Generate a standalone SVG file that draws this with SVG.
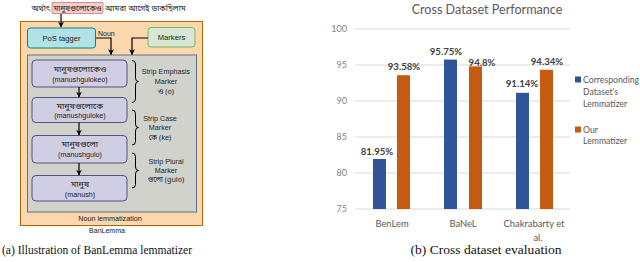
<svg xmlns="http://www.w3.org/2000/svg" width="640" height="262" viewBox="0 0 640 262">
<defs>
<marker id="ah" viewBox="0 0 10 10" refX="9" refY="5" markerWidth="5" markerHeight="5" orient="auto"><path d="M0,0 L10,5 L0,10 L3,5 z" fill="#000"/></marker>
<style>
.h{font-family:"Liberation Sans",Arial,sans-serif;fill:#222;}
.bn{font-family:"Noto Sans Bengali","Noto Sans","Liberation Sans",sans-serif;fill:#222;}
.node{fill:#d0cee2;stroke:#56517e;stroke-width:1;}
.conn{fill:none;stroke:#000;stroke-width:1.2;}
.brace{fill:none;stroke:#000;stroke-width:1;}
.cap{font-family:"Liberation Serif","Times New Roman",serif;font-size:13px;fill:#111;}
.ax{font-family:Lato,"Open Sans",sans-serif;font-size:9px;fill:#7f7f7f;}
.val{font-family:Lato,"Open Sans",sans-serif;font-size:9.6px;font-weight:bold;fill:#404040;}
.xl{font-family:Lato,"Open Sans",sans-serif;font-size:9.4px;fill:#595959;}
.lg{font-family:Lato,"Open Sans",sans-serif;font-size:8.7px;fill:#595959;}
.grid{stroke:#d9d9d9;stroke-width:1;}
.blue{fill:#2f5597;}
.org{fill:#c55a11;}
</style>
</defs>
<rect width="640" height="262" fill="#fff"/>

<!-- Left diagram -->
<g id="sentence">
<rect x="52" y="2.5" width="51" height="11" fill="#f8cecc" stroke="#b85450" stroke-width="0.6" rx="1"/>
<text class="bn" x="50" y="11" font-size="8" text-anchor="end">অর্থাৎ</text>
<text class="bn" x="77.5" y="11" font-size="8" text-anchor="middle" textLength="48" lengthAdjust="spacingAndGlyphs">মানুষগুলোকেও</text>
<text class="bn" x="105" y="11" font-size="8">আমরা আগেই ডাকছিলাম</text>
</g>
<g id="banlemma">
<rect x="20.5" y="21.5" width="182" height="204" fill="#fad7ac" stroke="#b46504" stroke-width="1"/>
<text class="h" x="107" y="233" font-size="7" text-anchor="middle">BanLemma</text>
</g>
<g id="pos-tagger">
<rect x="27.5" y="28" width="68" height="20" rx="3" fill="#b0e3e6" stroke="#0e8088" stroke-width="1"/>
<text class="h" x="61.5" y="40.5" font-size="7.6" text-anchor="middle">PoS tagger</text>
</g>
<g id="markers">
<rect x="148" y="27.5" width="47" height="19.5" rx="3" fill="#d5e8d4" stroke="#82b366" stroke-width="1"/>
<text class="h" x="171.5" y="40" font-size="7.6" text-anchor="middle">Markers</text>
</g>
<g id="noun-lemmatization">
<rect x="27.5" y="55" width="169" height="157" fill="#d2d2cd" stroke="#5d7585" stroke-width="1"/>
<text class="h" x="110" y="220.5" font-size="7.2" text-anchor="middle">Noun lemmatization</text>
</g>
<g id="n1">
<rect class="node" x="32" y="60" width="95" height="27" rx="4"/>
<text class="bn" x="80" y="72" font-size="8.6" text-anchor="middle">মানুষগুলোকেও</text>
<text class="h" x="80" y="82" font-size="7.2" text-anchor="middle">(manushgulokeo)</text>
</g>
<g id="n2">
<rect class="node" x="32" y="97.5" width="95" height="25" rx="4"/>
<text class="bn" x="80" y="108.5" font-size="8.6" text-anchor="middle">মানুষগুলোকে</text>
<text class="h" x="80" y="118" font-size="7.2" text-anchor="middle">(manushguloke)</text>
</g>
<g id="n3">
<rect class="node" x="32" y="135.5" width="95" height="27.5" rx="4"/>
<text class="bn" x="80" y="146.5" font-size="8.6" text-anchor="middle">মানুষগুলো</text>
<text class="h" x="80" y="156.5" font-size="7.2" text-anchor="middle">(manushgulo)</text>
</g>
<g id="n4">
<rect class="node" x="32" y="175.5" width="95" height="25.5" rx="4"/>
<text class="bn" x="80" y="187" font-size="8.6" text-anchor="middle">মানুষ</text>
<text class="h" x="80" y="196.5" font-size="7.2" text-anchor="middle">(manush)</text>
</g>
<g id="m1">
<text class="h" x="166" y="74" font-size="7.2" text-anchor="middle">Strip Emphasis</text>
<text class="h" x="166" y="84" font-size="7.2" text-anchor="middle">Marker</text>
<text class="bn" x="166" y="94" font-size="7.2" text-anchor="middle">ও (o)</text>
</g>
<g id="m2">
<text class="h" x="160" y="121" font-size="7.2" text-anchor="middle">Strip Case</text>
<text class="h" x="160" y="130" font-size="7.2" text-anchor="middle">Marker</text>
<text class="bn" x="160" y="139.5" font-size="7.2" text-anchor="middle">কে (ke)</text>
</g>
<g id="m3">
<text class="h" x="166" y="164" font-size="7.2" text-anchor="middle">Strip Plural</text>
<text class="h" x="166" y="173" font-size="7.2" text-anchor="middle">Marker</text>
<text class="bn" x="166" y="182" font-size="7.2" text-anchor="middle">গুলো (gulo)</text>
</g>
<g id="connectors">
<path class="conn" d="M61,14 V27" marker-end="url(#ah)"/>
<path class="conn" d="M96,38 H111 V54.5" marker-end="url(#ah)"/>
<text class="h" x="98" y="36" font-size="7">Noun</text>
<path class="conn" d="M148,38 H132 V54.5" marker-end="url(#ah)"/>
<path class="conn" d="M79,87 V97" marker-end="url(#ah)"/>
<path class="conn" d="M79,122.5 V135" marker-end="url(#ah)"/>
<path class="conn" d="M79,163 V175" marker-end="url(#ah)"/>
<path class="brace" d="M132,60.5 q3.5,0 3.5,3.5 v14 q0,3.5 3,3.5 q-3,0 -3,3.5 v14 q0,3.5 -3.5,3.5"/>
<path class="brace" d="M132,110 q3.5,0 3.5,3.5 v10.5 q0,3.5 3,3.5 q-3,0 -3,3.5 v10.5 q0,3.5 -3.5,3.5"/>
<path class="brace" d="M132,153 q3.5,0 3.5,3.5 v10.5 q0,3.5 3,3.5 q-3,0 -3,3.5 v10.5 q0,3.5 -3.5,3.5"/>
</g>
<text class="cap" x="2" y="254" textLength="190" lengthAdjust="spacingAndGlyphs">(a) Illustration of BanLemma lemmatizer</text>

<!-- Chart -->
<g id="chart">
<text x="487" y="14" text-anchor="middle" font-family="Lato,'Open Sans',sans-serif" font-size="12.6" fill="#595959">Cross Dataset Performance</text>
<line class="grid" x1="355" y1="29" x2="570" y2="29"/>
<line class="grid" x1="355" y1="65" x2="570" y2="65"/>
<line class="grid" x1="355" y1="101" x2="570" y2="101"/>
<line class="grid" x1="355" y1="137" x2="570" y2="137"/>
<line class="grid" x1="355" y1="173" x2="570" y2="173"/>
<line x1="355" y1="209" x2="570" y2="209" stroke="#d9d9d9" stroke-width="1"/>
<text class="ax" x="347" y="32" text-anchor="end">100</text>
<text class="ax" x="347" y="68" text-anchor="end">95</text>
<text class="ax" x="347" y="104" text-anchor="end">90</text>
<text class="ax" x="347" y="140" text-anchor="end">85</text>
<text class="ax" x="347" y="176" text-anchor="end">80</text>
<text class="ax" x="347" y="212" text-anchor="end">75</text>
<rect class="blue" x="373" y="159" width="13" height="50"/>
<rect class="org" x="397" y="75.2" width="13" height="133.8"/>
<rect class="blue" x="444" y="59.6" width="13" height="149.4"/>
<rect class="org" x="469" y="66.4" width="13" height="142.6"/>
<rect class="blue" x="516" y="92.8" width="13" height="116.2"/>
<rect class="org" x="540" y="69.8" width="13" height="139.2"/>
<text class="val" x="377" y="155" text-anchor="middle">81.95%</text>
<text class="val" x="404" y="70" text-anchor="middle">93.58%</text>
<text class="val" x="446" y="55" text-anchor="middle">95.75%</text>
<text class="val" x="482" y="66" text-anchor="middle">94.8%</text>
<text class="val" x="522" y="87" text-anchor="middle">91.14%</text>
<text class="val" x="547" y="65" text-anchor="middle">94.34%</text>
<text class="xl" x="392" y="226.5" text-anchor="middle">BenLem</text>
<text class="xl" x="463" y="226.5" text-anchor="middle">BaNeL</text>
<text class="xl" x="534" y="226.5" text-anchor="middle">Chakrabarty et</text>
<text class="xl" x="538" y="240.5" text-anchor="middle">al.</text>
<rect class="blue" x="575" y="76.5" width="6" height="6"/>
<text class="lg" x="583" y="83">Corresponding</text>
<text class="lg" x="583" y="95">Dataset's</text>
<text class="lg" x="583" y="106.5">Lemmatizer</text>
<rect class="org" x="575" y="126.5" width="6" height="6"/>
<text class="lg" x="583" y="133">Our</text>
<text class="lg" x="583" y="144">Lemmatizer</text>
</g>
<text class="cap" x="486" y="254" text-anchor="middle" textLength="151" lengthAdjust="spacingAndGlyphs">(b) Cross dataset evaluation</text>
</svg>
